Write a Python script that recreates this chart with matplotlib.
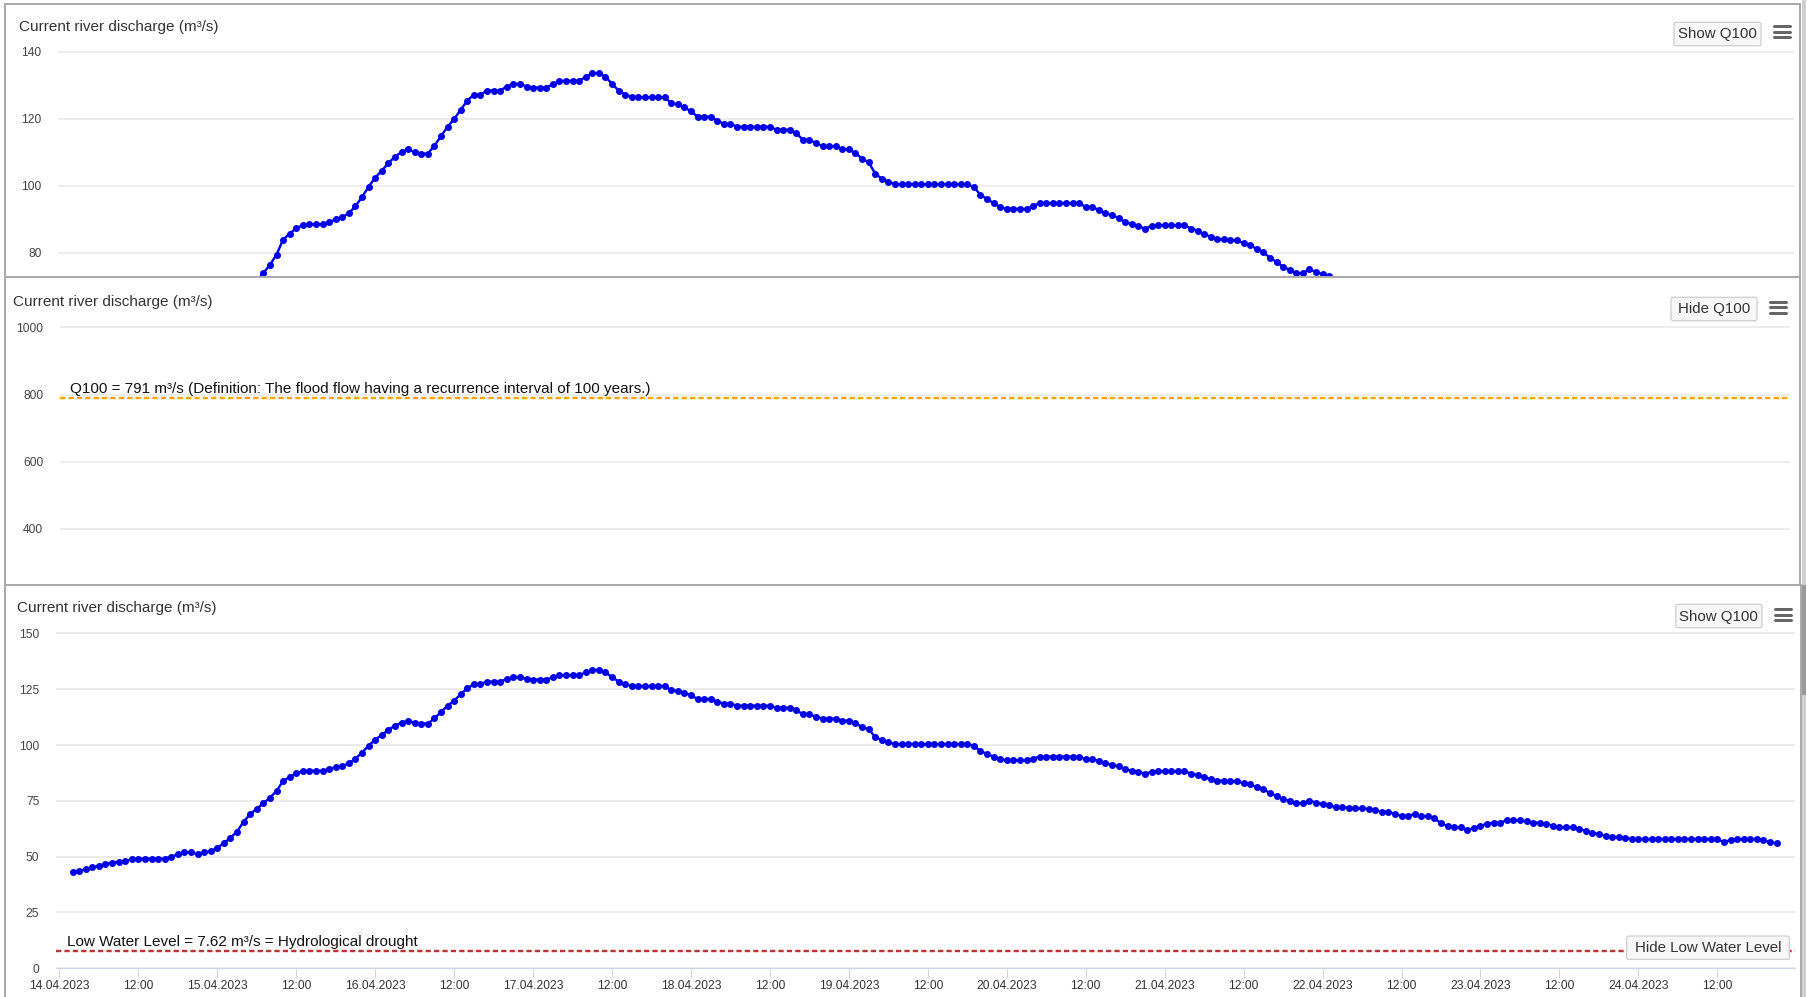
import matplotlib.pyplot as plt
import matplotlib.dates as mdates
from matplotlib.patches import FancyBboxPatch
import pandas as pd

plt.rcParams['font.family'] = ['Liberation Sans', 'DejaVu Sans']

# image size in pixels, 1 px = 0.72 pt at dpi 100
W, H = 1808, 997
PX = 0.72

# hourly discharge (m³/s), 14.04.2023 02:00 -> 24.04.2023 21:00
start_time = '2023-04-14 02:00'
discharge = [
    43.0, 43.6, 44.3, 45.2, 46.0, 46.7, 47.3, 47.6, 48.0, 48.8, 49.1, 49.1, 49.1, 49.1, 49.1,
    50.0, 51.0, 52.0, 52.0, 51.0, 52.0, 52.4, 54.0,
    56.0, 58.5, 61.2, 65.7, 69.0, 71.5, 73.9, 76.4, 79.4, 83.9, 85.7,
    87.3, 88.2, 88.5, 88.5, 88.5, 89.1, 90.0, 90.6, 91.8, 93.9, 96.6,
    99.7, 102.4, 104.5, 106.7, 108.7, 110.0, 110.9, 110.0, 109.6, 109.6, 111.9,
    114.8, 117.6, 119.9, 122.7, 125.4, 127.2, 127.2, 128.4, 128.4, 128.4,
    129.6, 130.4, 130.4, 129.6, 129.3, 129.3, 129.3, 130.3, 131.3, 131.3, 131.3, 131.3,
    132.5, 133.6, 133.6, 132.5, 130.4, 128.4, 127.2,
    126.4, 126.4, 126.4, 126.4, 126.4, 126.4, 124.6, 124.3, 123.4, 122.2, 120.6,
    120.6, 120.6, 119.4, 118.5, 118.5, 117.6, 117.6, 117.6, 117.6, 117.6, 117.6,
    116.7, 116.7, 116.7, 115.7, 113.7, 113.7, 112.7, 111.8, 111.8, 111.8, 110.9, 110.9,
    109.7, 108.1, 107.0, 103.6, 102.1, 101.2, 100.4,
    100.4, 100.4, 100.4, 100.4, 100.4, 100.4, 100.4, 100.4, 100.4, 100.4, 100.4,
    99.6, 97.3, 96.0, 94.8, 93.6, 93.1, 93.1, 93.1, 93.1,
    93.9, 94.8, 94.8, 94.8, 94.8, 94.8, 94.8, 94.8,
    93.6, 93.6, 92.8, 91.8, 91.2, 90.4, 89.1, 88.5, 87.9, 87.2, 87.9, 88.2, 88.2, 88.2, 88.2, 88.2,
    87.2, 86.6, 85.5, 84.8, 84.0, 84.0, 83.7, 83.7, 82.8, 82.4, 81.0, 80.1, 78.5, 77.2, 75.8, 74.9, 73.9,
    73.9, 75.1, 74.2, 73.6, 73.1, 72.1, 72.1, 71.9, 71.6, 71.6, 71.3, 70.9, 70.1, 70.1, 69.1, 68.2,
    68.2, 69.1, 68.2, 68.2, 67.2,
    64.9, 63.7, 63.1, 63.1, 61.9, 62.8, 63.7, 64.8, 65.2, 65.2, 66.3, 66.3, 66.3, 65.8, 65.2,
    65.2, 64.8, 63.7, 63.1, 63.1, 63.1, 62.5, 61.5, 60.7, 60.1, 59.3, 58.8, 58.8, 58.4, 57.9,
    57.9, 57.9, 57.9, 57.9, 57.9, 57.9, 57.9, 57.9, 57.9, 57.9, 57.9, 57.9, 57.9,
    56.4, 57.5, 57.9, 57.9, 57.9, 57.9, 57.5, 56.4, 56.0,
]
low_water_level = 7.62
q100 = 791

title = 'Current river discharge (m³/s)'
q100_label = 'Q100 = 791 m³/s (Definition: The flood flow having a recurrence interval of 100 years.)'
low_label = 'Low Water Level = 7.62 m³/s = Hydrological drought'

yticks_top = [80, 100, 120, 140]
yticks_mid = [400, 600, 800, 1000]
yticks_bot = [0, 25, 50, 75, 100, 125, 150]

times = pd.date_range(start_time, periods=len(discharge), freq='h')
x = mdates.date2num(times.to_pydatetime())
tick_times = pd.date_range('2023-04-14 00:00', '2023-04-24 12:00', freq='12h')
tick_x = mdates.date2num(tick_times.to_pydatetime())
tick_labels = [t.strftime('%d.%m.%Y') if t.hour == 0 else t.strftime('%H:%M') for t in tick_times]

# where the time axis sits on the screenshot
day0 = mdates.date2num(pd.Timestamp('2023-04-14').to_pydatetime())
X0_PX, DAY_PX = 59.4, 157.9

fig = plt.figure(figsize=(W / 100, H / 100), dpi=100)
fig.patch.set_facecolor('white')


def px_axes(x0, y0, x1, y1):
    return fig.add_axes([x0 / W, 1 - y1 / H, (x1 - x0) / W, (y1 - y0) / H])


def frame(x0, y0, x1, y1, title_xy):
    ax = px_axes(x0, y0, x1, y1)
    ax.set_xlim(x0, x1)
    ax.set_ylim(y1, y0)
    ax.set_xticks([])
    ax.set_yticks([])
    ax.set_facecolor('white')
    for s in ax.spines.values():
        s.set_color('#aaaaaa')
        s.set_linewidth(2 * PX)
    ax.text(title_xy[0], title_xy[1], title, fontsize=15.3 * PX, color='#333333',
            ha='left', va='center')
    return ax


def overlay(x0, y0, x1, y1):
    ax = px_axes(x0, y0, x1, y1)
    ax.set_xlim(x0, x1)
    ax.set_ylim(y1, y0)
    ax.axis('off')
    return ax


def plot_axes(left, top, right, bottom, v_ref, p_ref, scale, yticks):
    ax = px_axes(left, top, right, bottom)
    ax.set_facecolor('none')
    ax.set_xlim(day0 + (left - X0_PX) / DAY_PX, day0 + (right - X0_PX) / DAY_PX)
    ax.set_ylim(v_ref - (bottom - p_ref) / scale, v_ref + (p_ref - top) / scale)
    for s in ax.spines.values():
        s.set_visible(False)
    ax.set_yticks(yticks)
    ax.grid(axis='y', color='#e6e6e6', linewidth=1.5 * PX)
    ax.set_axisbelow(True)
    ax.tick_params(axis='y', length=0, pad=16.5 * PX, labelsize=12 * PX, labelcolor='#444444')
    ax.tick_params(axis='x', bottom=False, labelbottom=False)
    return ax


def draw_series(ax):
    ax.plot(x, discharge, color='#0000e8', linewidth=2.4 * PX, marker='o',
            markersize=7 * PX, markeredgewidth=0, zorder=3)


def button(ax, x0, y0, x1, y1, label):
    ax.add_patch(FancyBboxPatch((x0, y0), x1 - x0, y1 - y0,
                                boxstyle='round,pad=0,rounding_size=2',
                                facecolor='#f7f7f7', edgecolor='#cccccc', linewidth=1.2 * PX))
    ax.text((x0 + x1) / 2, (y0 + y1) / 2 + 0.5, label, fontsize=15 * PX, color='#333333',
            ha='center', va='center')


def burger(ax, x0, x1, ys):
    for yy in ys:
        ax.plot([x0 + 1.5, x1 - 1.5], [yy, yy], color='#666666', linewidth=3 * PX,
                solid_capstyle='round')


# ---------- panel 1 (behind) ----------
frame(5, 4, 1800, 300, (18.75, 26.7))
ax1 = plot_axes(58, 40, 1794.4, 278, 140, 51.7, 3.35, yticks_top)
draw_series(ax1)
ov1 = overlay(5, 4, 1800, 278)
button(ov1, 1674, 22.3, 1761, 45.7, 'Show Q100')
burger(ov1, 1772.7, 1791.5, [26.3, 31.8, 37.3])

# ---------- panel 2 (middle) ----------
frame(5, 277, 1800, 620, (12.8, 301.7))
ax2 = plot_axes(59.7, 318, 1790, 585, 1000, 327.5, 0.3353, yticks_mid)
draw_series(ax2)
ax2.axhline(q100, color='#ffa500', linewidth=2.4 * PX, linestyle=(0, (2.2, 1.3)), zorder=2)
ax2.annotate(q100_label, xy=(0, q100), xycoords=('axes fraction', 'data'),
             xytext=(10.3 * PX, 2 * PX), textcoords='offset points',
             ha='left', va='bottom', fontsize=15.2 * PX, color='#111111')
ov2 = overlay(5, 277, 1800, 585)
button(ov2, 1671, 297.3, 1757, 320.7, 'Hide Q100')
burger(ov2, 1769, 1788, [301.8, 307.5, 313.2])

# ---------- panel 3 (front) ----------
frame(5, 585, 1801, H + 10, (17, 608.3))
ax3 = plot_axes(55.8, 625, 1795, 968.3, 0, 968.3, 2.233, yticks_bot)
ax3.spines['bottom'].set_visible(True)
ax3.spines['bottom'].set_color('#ccd6eb')
ax3.spines['bottom'].set_linewidth(1.2 * PX)
ax3.set_xticks(tick_x)
ax3.set_xticklabels(tick_labels)
ax3.tick_params(axis='x', bottom=True, labelbottom=True, length=10 * PX, width=1 * PX,
                color='#ccd6eb', pad=1.5 * PX, labelsize=12 * PX, labelcolor='#333333')
draw_series(ax3)
ax3.axhline(low_water_level, color='#bb3333', linewidth=2.4 * PX, linestyle=(0, (2.2, 1.3)), zorder=2)
ax3.annotate(low_label, xy=(0, low_water_level), xycoords=('axes fraction', 'data'),
             xytext=(11 * PX, 2 * PX), textcoords='offset points',
             ha='left', va='bottom', fontsize=15.2 * PX, color='#111111')
ov3 = overlay(5, 585, 1801, H)
button(ov3, 1675.8, 604.3, 1761.9, 627.7, 'Show Q100')
burger(ov3, 1773.3, 1792.5, [609.2, 614.6, 620.0])
button(ov3, 1626.7, 936, 1789.3, 959.3, 'Hide Low Water Level')

# ---------- window scrollbar at the right edge ----------
edge = overlay(1801, 0, W, H)
edge.axvspan(1802, 1806, color='#cfcfcf', linewidth=0)
edge.axvspan(1802, 1806, ymin=1 - 695 / H, ymax=1 - 585 / H, color='#9a9a9a', linewidth=0)

fig.savefig('out.png', dpi=100)
